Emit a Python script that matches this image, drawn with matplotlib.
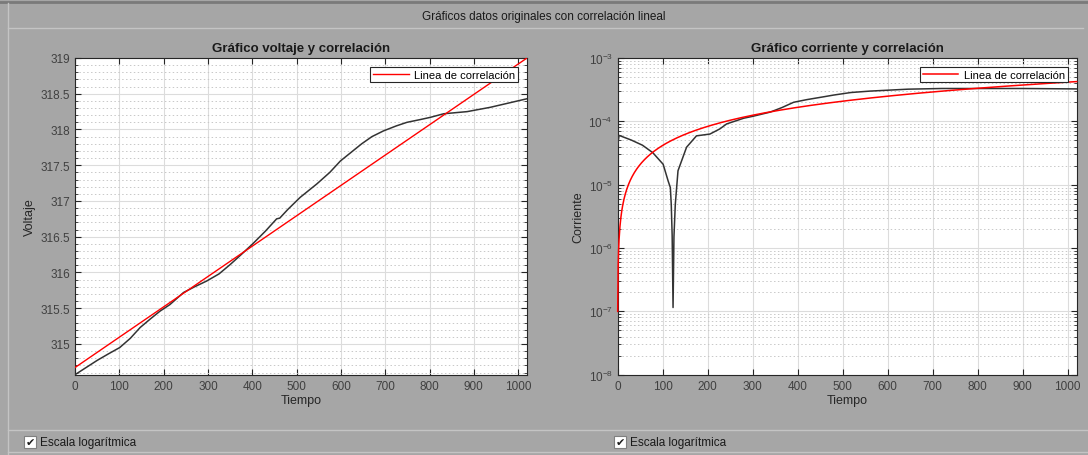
import numpy as np
import matplotlib
matplotlib.use("Agg")
import matplotlib.pyplot as plt
from matplotlib.ticker import MultipleLocator, FuncFormatter, LogLocator, NullFormatter
from matplotlib.lines import Line2D
from matplotlib.patches import Rectangle

plt.rcParams['font.family'] = ['Liberation Sans', 'DejaVu Sans']

# voltaje
tiempo_v = [0, 20, 50, 75, 101, 125, 147, 170, 192, 214, 245, 270, 297, 325, 350, 375, 401, 430, 455,
            462, 480, 508, 546, 575, 599, 625, 647, 670, 696, 725, 749, 780, 802, 832, 885, 937, 1020]
voltaje = [314.57, 314.65, 314.77, 314.86, 314.95, 315.08, 315.23, 315.35, 315.46, 315.55, 315.72,
           315.80, 315.88, 315.98, 316.11, 316.25, 316.40, 316.58, 316.75, 316.76, 316.88, 317.05,
           317.24, 317.40, 317.56, 317.69, 317.80, 317.90, 317.98, 318.05, 318.10, 318.14, 318.17,
           318.22, 318.25, 318.31, 318.43]

# corriente
tiempo_i = [0, 3, 30, 55, 78, 101, 112, 117, 119, 121, 123, 125, 128, 134, 153, 175, 205, 227, 242,
            280, 300, 339, 365, 391, 420, 459, 480, 518, 560, 645, 720, 794, 900, 1020]
corriente = [4.2e-5, 6.0e-5, 5.07e-5, 4.2e-5, 3.2e-5, 2.1e-5, 1.15e-5, 9.0e-6, 4.9e-6, 1.6e-6, 1.15e-7,
             1.5e-6, 4.9e-6, 1.66e-5, 3.9e-5, 5.9e-5, 6.3e-5, 7.6e-5, 9.1e-5,
             1.12e-4, 1.2e-4, 1.4e-4, 1.65e-4, 2.0e-4, 2.2e-4, 2.45e-4, 2.6e-4, 2.85e-4, 3.0e-4,
             3.22e-4, 3.3e-4, 3.3e-4, 3.3e-4, 3.25e-4]

# rectas de correlacion (pendiente, ordenada)
corr_v_pendiente, corr_v_ordenada = 0.004245, 314.67
corr_i_pendiente, corr_i_ordenada = 4.16e-7, 1.0e-7
t_max = 1020

bg = '#a6a6a6'
fig = plt.figure(figsize=(10.88, 4.56), dpi=100, facecolor=bg)

# marco del panel
fig.add_artist(Line2D([0, 1], [1 - 3 / 456, 1 - 3 / 456], color='#7a7a7a', lw=2))
fig.add_artist(Line2D([0.007, 0.995], [1 - 29 / 456, 1 - 29 / 456], color='#c4c4c4', lw=1))
fig.add_artist(Line2D([0.007, 0.007], [0, 1 - 4 / 456], color='#c4c4c4', lw=1))
fig.add_artist(Line2D([0.007, 1], [1 - 431 / 456, 1 - 431 / 456], color='#c4c4c4', lw=1))
fig.add_artist(Line2D([0.007, 1], [1 - 453 / 456, 1 - 453 / 456], color='#c4c4c4', lw=1))
fig.text(0.5, 1 - 17 / 456, 'Gráficos datos originales con correlación lineal',
         ha='center', va='center', fontsize=8.5, color='#1a1a1a')

ax1 = fig.add_axes([75 / 1088, 80.3 / 456, 452 / 1088, 316.7 / 456])
ax2 = fig.add_axes([617.7 / 1088, 80.3 / 456, 459 / 1088, 316.7 / 456])

tv = np.array([0, t_max])
ax1.plot(tiempo_v, voltaje, color='#333333', lw=1.1, label='_nolegend_')
ax1.plot(tv, corr_v_pendiente * tv + corr_v_ordenada, color='red', lw=1, label='Linea de correlación')
ax1.set_xlim(0, t_max)
ax1.set_ylim(314.57, 319)
ax1.yaxis.set_major_locator(MultipleLocator(0.5))
ax1.yaxis.set_minor_locator(MultipleLocator(0.1))
ax1.yaxis.set_major_formatter(FuncFormatter(lambda v, p: '%g' % v))
ax1.xaxis.set_major_locator(MultipleLocator(100))
ax1.set_title('Gráfico voltaje y correlación', fontsize=9.5, fontweight='bold', color='#1a1a1a', pad=5)
ax1.set_xlabel('Tiempo', fontsize=9, color='#262626', labelpad=2)
ax1.set_ylabel('Voltaje', fontsize=9, color='#262626', labelpad=3)

ti = np.arange(0, t_max + 1)
ax2.plot(tiempo_i, corriente, color='#333333', lw=1.1, label='_nolegend_')
ax2.plot(ti, corr_i_pendiente * ti + corr_i_ordenada, color='red', lw=1.1, label='Linea de correlación',
         clip_on=False)
ax2.set_yscale('log')
ax2.set_xlim(0, t_max)
ax2.set_ylim(1e-8, 1e-3)
ax2.yaxis.set_major_locator(LogLocator(base=10, numticks=10))
ax2.yaxis.set_minor_locator(LogLocator(base=10, subs=np.arange(2, 10), numticks=20))
ax2.yaxis.set_minor_formatter(NullFormatter())
ax2.xaxis.set_major_locator(MultipleLocator(100))
ax2.set_title('Gráfico corriente y correlación', fontsize=9.5, fontweight='bold', color='#1a1a1a', pad=5)
ax2.set_xlabel('Tiempo', fontsize=9, color='#262626', labelpad=2)
ax2.set_ylabel('Corriente', fontsize=9, color='#262626', labelpad=3)

for ax in (ax1, ax2):
    ax.set_facecolor('white')
    ax.grid(True, which='major', color='#dcdcdc', lw=0.8, ls='-')
    ax.grid(True, which='minor', axis='y', color='#c8c8c8', lw=0.7, ls=(0, (1.5, 2.5)))
    ax.tick_params(which='both', direction='in', top=True, right=True, colors='#262626',
                   labelcolor='#404040', labelsize=8.5)
    ax.tick_params(which='major', length=4)
    ax.tick_params(which='minor', length=2)
    for s in ax.spines.values():
        s.set_color('#262626')
        s.set_linewidth(0.8)
        s.set_zorder(1.5)
    ax.set_axisbelow(True)
    leg = ax.legend(loc='upper right', fontsize=8, fancybox=False, framealpha=1,
                    edgecolor='#262626', handlelength=3.2, borderaxespad=0.8,
                    borderpad=0.25, handletextpad=0.5)
    leg.get_frame().set_linewidth(0.8)

# casillas "Escala logaritmica"
for x0 in (24, 614):
    fig.add_artist(Rectangle((x0 / 1088, 1 - 449 / 456), 12 / 1088, 12 / 456,
                             facecolor='white', edgecolor='#808080', lw=0.8))
    fig.text((x0 + 6) / 1088, 1 - 443 / 456, '✔', family='DejaVu Sans', ha='center',
             va='center', fontsize=8, color='#1a1a1a')
    fig.text((x0 + 16) / 1088, 1 - 443 / 456, 'Escala logarítmica', ha='left',
             va='center', fontsize=8.5, color='#1a1a1a')

fig.savefig('out.png', dpi=100, facecolor=bg)
